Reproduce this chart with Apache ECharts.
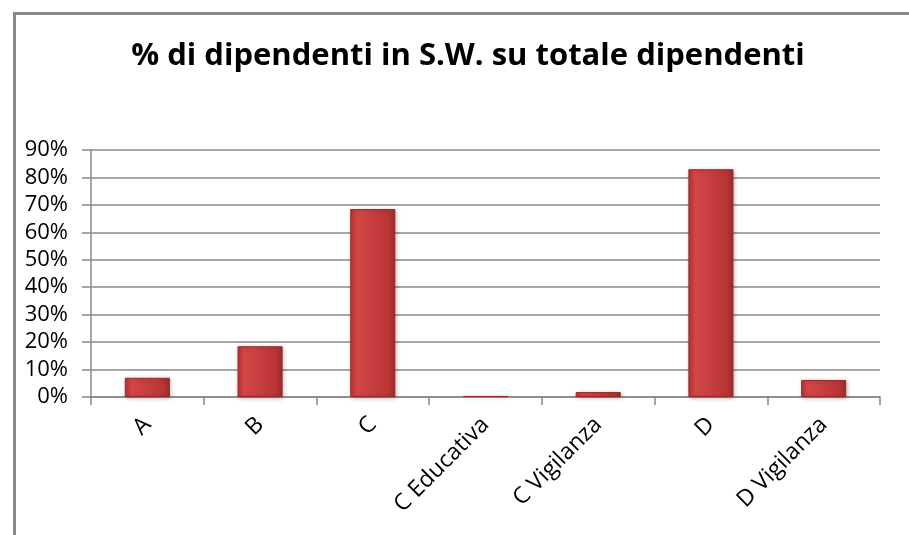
<!DOCTYPE html>
<html><head><meta charset="utf-8">
<script src="https://cdn.jsdelivr.net/npm/echarts@6/dist/echarts.min.js"></script>
<style>html,body{margin:0;padding:0;background:#fff}#c{width:909px;height:535px}</style>
</head><body><div id="c"></div>
<script>
const categories = ['A','B','C','C Educativa','C Vigilanza','D','D Vigilanza'];
const values = [0.07, 0.185, 0.685, 0.004, 0.018, 0.83, 0.062];
const titleText = '% di dipendenti in S.W. su totale dipendenti';

const chart = echarts.init(document.getElementById('c'));
const font = '"Open Sans", sans-serif';
chart.setOption({
  animation:false,
  backgroundColor:'#fff',
  graphic:[{type:'rect',left:12,top:11,shape:{width:930,height:560},style:{fill:'none',stroke:'#888',lineWidth:3},silent:true}],
  title:{text:titleText,left:463,textAlign:'center',top:36,textStyle:{fontFamily:font,fontSize:31,fontWeight:'bold',color:'#000'}},
  grid:{left:91,right:29,top:150,bottom:138,containLabel:false},
  xAxis:{type:'category',data:categories,
    axisLine:{lineStyle:{color:'#888',width:1.5}},
    axisTick:{show:true,length:8,lineStyle:{color:'#888',width:1.5}},
    axisLabel:{rotate:45,fontFamily:font,fontSize:23,color:'#000',margin:24,interval:0}},
  yAxis:{type:'value',min:0,max:0.9,interval:0.1,
    axisLine:{show:true,lineStyle:{color:'#888',width:1.5}},
    axisTick:{show:true,length:9,lineStyle:{color:'#888',width:1.5}},
    splitLine:{lineStyle:{color:'#888',width:1.5}},
    axisLabel:{fontFamily:font,fontSize:22,color:'#000',margin:23,formatter:v=>Math.round(v*100)+'%'}},
  series:[{type:'bar',data:values,barWidth:'40%',
    itemStyle:{
      color:new echarts.graphic.LinearGradient(0,0,1,0,[{offset:0,color:'#b8343a'},{offset:0.15,color:'#d34644'},{offset:0.5,color:'#c73e3f'},{offset:0.85,color:'#b83536'},{offset:1,color:'#a02a2c'}]),
      borderColor:'#9a2a2a',borderWidth:1,
      shadowColor:'rgba(0,0,0,0.25)',shadowBlur:4,shadowOffsetX:1,shadowOffsetY:1}
  }]
});
</script></body></html>
